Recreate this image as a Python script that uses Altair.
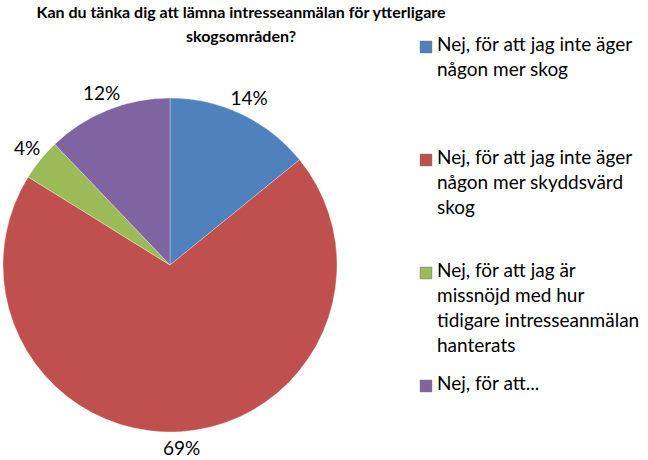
import altair as alt
import pandas as pd

categories = [
    "Nej, för att jag inte äger någon mer skog",
    "Nej, för att jag inte äger någon mer skyddsvärd skog",
    "Nej, för att jag är missnöjd med hur tidigare intresseanmälan hanterats",
    "Nej, för att...",
]
legend_text = [
    "Nej, för att jag inte äger\nnågon mer skog",
    "Nej, för att jag inte äger\nnågon mer skyddsvärd\nskog",
    "Nej, för att jag är\nmissnöjd med hur\ntidigare intresseanmälan\nhanterats",
    "Nej, för att...",
]
values = [14, 69, 4, 12]
pct_labels = ["14%", "69%", "4%", "12%"]
colors = ["#4F81BD", "#C0504D", "#9BBB59", "#8064A2"]
title_lines = ["Kan du tänka dig att lämna intresseanmälan för ytterligare", "skogsområden?"]

df = pd.DataFrame({
    "cat": categories,
    "legend": legend_text,
    "value": values,
    "label": pct_labels,
    "idx": list(range(len(values))),
})

FONT = "Lato"
color = alt.Color("cat:N", scale=alt.Scale(domain=categories, range=colors), legend=None)
base = alt.Chart(df)

pie = base.mark_arc(outerRadius=167, stroke="#ffffff", strokeWidth=0.3).encode(
    theta=alt.Theta("value:Q", stack=True),
    color=color,
    order=alt.Order("idx:Q"),
    x=alt.value(170),
    y=alt.value(215),
)

labels = base.mark_text(radius=184, fontSize=19, font=FONT, color="#000000").encode(
    theta=alt.Theta("value:Q", stack=True),
    order=alt.Order("idx:Q"),
    text="label:N",
    x=alt.value(170),
    y=alt.value(215),
)

ly = alt.Y("idx:Q", scale=alt.Scale(domain=[0, 3], range=[-3, 336]), axis=None)

leg_sq = base.mark_square(size=140, opacity=1, strokeWidth=0.8, stroke="#555555", strokeOpacity=0.5).encode(
    x=alt.value(426),
    y=ly,
    color=color,
)

leg_txt = base.mark_text(
    align="left", baseline="top", dy=-11, fontSize=19, font=FONT,
    lineBreak="\n", lineHeight=25, color="#000000",
).encode(
    x=alt.value(437),
    y=ly,
    text="legend:N",
)

chart = alt.layer(pie, labels, leg_sq, leg_txt).properties(
    width=648,
    height=410,
    autosize=alt.AutoSizeParams(type="none"),
    padding={"top": 50, "left": 0, "right": 0, "bottom": 0},
    title=alt.TitleParams(
        text=title_lines, fontSize=16, font=FONT, fontWeight="bold",
        anchor="middle", dx=-83, offset=-9, lineHeight=24, color="#000000",
    ),
).configure_view(stroke=None)

chart.save("out.html", embed_options={"renderer": "svg", "actions": False})
